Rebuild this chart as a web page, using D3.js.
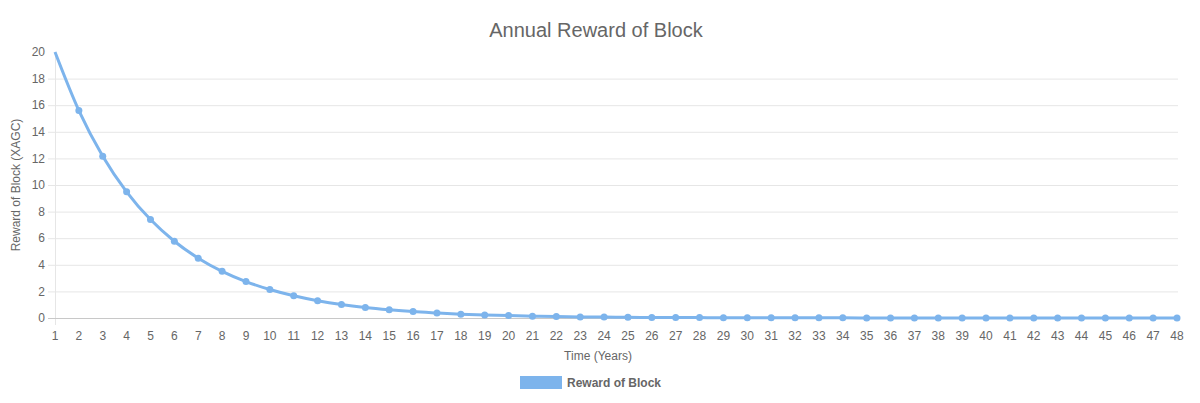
<!DOCTYPE html>
<html><head><meta charset="utf-8">
<script src="https://cdn.jsdelivr.net/npm/d3@7"></script>
<style>body{margin:0;background:#fff;font-family:"Liberation Sans",Arial,sans-serif;}</style>
</head><body><svg id="c" width="1200" height="403"></svg>
<script>
const years = d3.range(1, 49);
const rewards = [20, 15.6, 12.17, 9.49, 7.4, 5.77, 4.5, 3.51, 2.74, 2.14, 1.67, 1.3, 1.01, 0.79, 0.62, 0.48,
  0.38, 0.29, 0.23, 0.18, 0.14, 0.11, 0.08, 0.07, 0.05, 0.04, 0.03, 0.03, 0.02, 0.02, 0.01, 0.01,
  0.01, 0.01, 0, 0, 0, 0, 0, 0, 0, 0, 0, 0, 0, 0, 0, 0];
const yTicks = [0, 2, 4, 6, 8, 10, 12, 14, 16, 18, 20];
const title = "Annual Reward of Block";
const xTitle = "Time (Years)";
const yTitle = "Reward of Block (XAGC)";
const seriesName = "Reward of Block";
const color = "#7db4ec";

const svg = d3.select("#c");
const L = 55, R = 1177, T = 52, B = 318;
const x = d3.scalePoint().domain(years).range([L, R]);
const y = d3.scaleLinear().domain([0, 20]).range([B, T]);

// grid
svg.append("g").selectAll("line").data(yTicks.filter(d => d > 0 && d < 20)).join("line")
  .attr("x1", L - 7).attr("x2", R + 1).attr("y1", d => y(d) + 0.5).attr("y2", d => y(d) + 0.5)
  .attr("stroke", "#e6e6e6").attr("stroke-width", 1);
// y axis line
svg.append("line").attr("x1", L + 0.5).attr("x2", L + 0.5).attr("y1", T).attr("y2", B + 7)
  .attr("stroke", "#e6e6e6");
// x axis line
svg.append("line").attr("x1", L - 7).attr("x2", R + 1).attr("y1", B + 0.5).attr("y2", B + 0.5)
  .attr("stroke", "#c8c8c8");

// y tick labels
svg.append("g").selectAll("text").data(yTicks).join("text")
  .attr("x", L - 10).attr("y", d => y(d)).attr("dy", "0.35em").attr("text-anchor", "end")
  .attr("font-size", 12).attr("fill", "#666").text(d => d);
// x tick labels
svg.append("g").selectAll("text").data(years).join("text")
  .attr("x", d => x(d)).attr("y", 340).attr("text-anchor", "middle")
  .attr("font-size", 12).attr("fill", "#666").text(d => d);

// line
const data = years.map((d, i) => ({ x: d, v: rewards[i] }));
svg.append("path").datum(data)
  .attr("d", d3.line().x(d => x(d.x)).y(d => y(d.v)).curve(d3.curveMonotoneX))
  .attr("fill", "none").attr("stroke", color).attr("stroke-width", 3);
svg.append("g").selectAll("circle").data(data.slice(1)).join("circle")
  .attr("cx", d => x(d.x)).attr("cy", d => y(d.v)).attr("r", 3.5).attr("fill", color);

// titles
svg.append("text").attr("x", 596).attr("y", 37).attr("text-anchor", "middle")
  .attr("font-size", 20).attr("fill", "#666").text(title);
svg.append("text").attr("x", 598).attr("y", 360).attr("text-anchor", "middle")
  .attr("font-size", 12).attr("fill", "#666").text(xTitle);
svg.append("text").attr("transform", `translate(20,${(T + B) / 2}) rotate(-90)`)
  .attr("text-anchor", "middle").attr("font-size", 12).attr("fill", "#666").text(yTitle);

// legend
svg.append("rect").attr("x", 520).attr("y", 376).attr("width", 42).attr("height", 13).attr("fill", color);
svg.append("text").attr("x", 567).attr("y", 387).attr("font-size", 12).attr("font-weight", "bold")
  .attr("fill", "#666").text(seriesName);
</script></body></html>
